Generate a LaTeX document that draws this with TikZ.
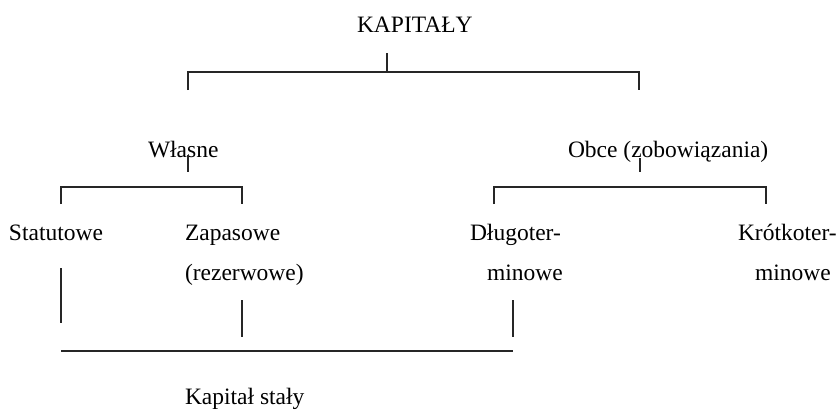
\documentclass[tikz,border=0pt]{standalone}
\usepackage{fontspec}
\setmainfont{Liberation Serif}
\begin{document}
\begin{tikzpicture}[x=1pt,y=-1pt,
  lbl/.style={anchor=base west,inner sep=0pt,outer sep=0pt,
    font=\fontsize{23.5}{28}\selectfont},
  link/.style={line width=1.3pt,draw=black!85}]
\useasboundingbox (0,0) rectangle (839,410);

% labels
\node[lbl] (kap) at (357,32) {KAPITAŁY};
\node[lbl] (wl) at (148,157) {Własne};
\node[lbl] (ob) at (568,157) {Obce (zobowiązania)};
\node[lbl] (st) at (9,240) {Statutowe};
\node[lbl] (za) at (185,240) {Zapasowe};
\node[lbl] (zb) at (185,280) {(rezerwowe)};
\node[lbl] (dl) at (470,240) {Długoter-};
\node[lbl] (db) at (487,280) {minowe};
\node[lbl] (kr) at (738,240) {Krótkoter-};
\node[lbl] (kb) at (755,280) {minowe};
\node[lbl] (ks) at (185,404) {Kapitał stały};

% bracket points
\coordinate (t0) at (387,53);  \coordinate (t1) at (387,72);
\coordinate (tl) at (188,72);  \coordinate (tr) at (639,72);
\coordinate (tla) at (188,90); \coordinate (tra) at (639,90);

\coordinate (w0) at (188,155); \coordinate (w1) at (188,172);
\coordinate (wl1) at (61,187); \coordinate (wr1) at (242,187);
\coordinate (wla) at (61,204); \coordinate (wra) at (242,204);

\coordinate (o0) at (640,158); \coordinate (o1) at (640,172);
\coordinate (ol1) at (494,187); \coordinate (or1) at (766,187);
\coordinate (ola) at (494,204); \coordinate (ora) at (766,204);

\coordinate (s0) at (61,268);  \coordinate (s1) at (61,323);
\coordinate (z0) at (242,300); \coordinate (z1) at (242,337);
\coordinate (d0) at (513,300); \coordinate (d1) at (513,337);
\coordinate (bl) at (61,351);  \coordinate (br) at (513,351);

% top level
\draw[link] (t0) -- (t1);
\draw[link] (tla) -- (tl) -- (tr) -- (tra);
% own capital
\draw[link] (w0) -- (w1);
\draw[link] (wla) -- (wl1) -- (wr1) -- (wra);
% liabilities
\draw[link] (o0) -- (o1);
\draw[link] (ola) -- (ol1) -- (or1) -- (ora);
% fixed capital
\draw[link] (s0) -- (s1);
\draw[link] (z0) -- (z1);
\draw[link] (d0) -- (d1);
\draw[link] (bl) -- (br);
\end{tikzpicture}
\end{document}
